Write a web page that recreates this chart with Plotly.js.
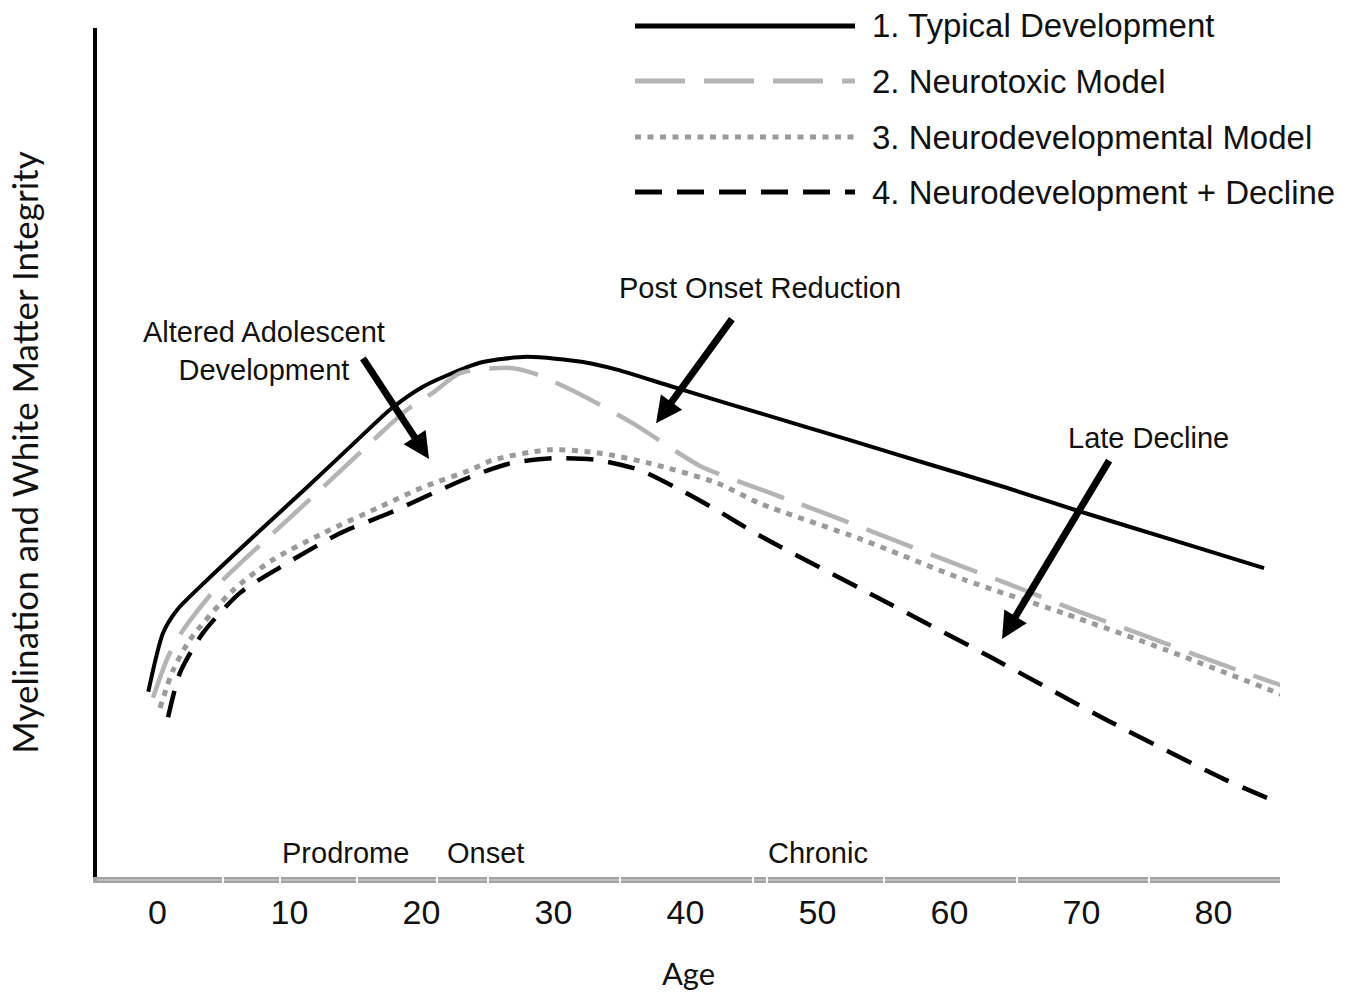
<!DOCTYPE html>
<html>
<head>
<meta charset="utf-8">
<script src="https://cdn.plot.ly/plotly-3.0.1.min.js"></script>
<style>html,body{margin:0;padding:0;background:#fff;}#chart{width:1355px;height:992px;}</style>
</head>
<body>
<div id="chart"></div>
<script>
// ---- Data (y in arbitrary integrity units) ----
const seriesNames = ["1. Typical Development", "2. Neurotoxic Model", "3. Neurodevelopmental Model", "4. Neurodevelopment + Decline"];

const ageTypical = [-0.70, 0.42, 1.48, 3.75, 7.54, 11.33, 15.11, 17.61, 20.11, 23.45, 24.66, 27.99, 32.23, 34.81, 38.6, 42.39, 45.64, 52.08, 58.45, 64.2, 69.58, 76.7, 83.83];
const valTypical = [22.1, 29.0, 31.7, 35.2, 40.7, 46.1, 51.6, 55.2, 57.9, 60.2, 60.8, 61.4, 60.8, 59.9, 58.1, 56.3, 54.8, 51.8, 48.8, 46.1, 43.4, 40.0, 36.6];

const ageNeurotoxic = [-0.34, 0.80, 1.93, 4.96, 8.75, 12.54, 16.33, 18.9, 20.87, 22.92, 26.7, 28.45, 31.78, 36.02, 41.1, 44.89, 47.16, 50.27, 55.13, 59.96, 64.89, 69.96, 74.58, 79.74, 85.57];
const valNeurotoxic = [21.4, 26.2, 29.3, 35.2, 40.7, 46.1, 51.6, 55.2, 57.2, 59.5, 60.1, 59.5, 57.2, 53.6, 48.6, 46.3, 45.0, 43.2, 40.3, 37.4, 34.5, 31.4, 28.8, 25.8, 22.6];

const ageNeurodev = [0.19, 1.17, 2.46, 5.72, 8.75, 12.54, 16.86, 20.11, 23.67, 25.42, 29.73, 33.52, 37.31, 42.39, 45.64, 53.3, 61.02, 68.67, 76.4, 85.11];
const valNeurodev = [20.2, 24.6, 28.2, 34.0, 37.6, 40.7, 43.8, 46.1, 48.1, 49.3, 50.5, 50.1, 48.9, 46.6, 44.2, 40.0, 35.3, 31.3, 27.0, 21.8];

const ageDecline = [0.80, 1.70, 3.45, 6.25, 9.28, 13.83, 17.61, 20.87, 23.67, 26.7, 29.96, 33.3, 36.55, 39.58, 42.39, 45.64, 54.36, 63.07, 72.01, 80.72, 84.58];
const valDecline = [19.1, 24.3, 29.0, 33.7, 36.7, 40.7, 43.1, 45.4, 47.3, 48.9, 49.5, 49.3, 48.1, 45.8, 43.4, 40.4, 33.3, 26.2, 18.7, 11.9, 9.3];

const tickValues = [0, 10, 20, 30, 40, 50, 60, 70, 80];
const tickLabels = ["0", "10", "20", "30", "40", "50", "60", "70", "80"];

const phaseLabels = ["Prodrome", "Onset", "Chronic"];
const calloutLabels = ["Altered Adolescent<br>Development", "Post Onset Reduction", "Late Decline"];
// arrow tips / tails (age, value)
const arrowTips  = [[20.57, 49.4], [37.77, 53.6], [63.98, 28.3]];
const arrowTails = [[15.49, 61.4], [43.6, 66.0], [72.16, 49.4]];

// ---- Styles ----
const styles = [
  {color: "#000000", width: 4, dash: "solid"},
  {color: "#b4b4b4", width: 4.5, dash: "50px,19px"},
  {color: "#9a9a9a", width: 5, dash: "6px,6.5px"},
  {color: "#000000", width: 4.5, dash: "27px,15px"}
];
const xs = [ageTypical, ageNeurotoxic, ageNeurodev, ageDecline];
const ys = [valTypical, valNeurotoxic, valNeurodev, valDecline];

const traces = xs.map((x, i) => ({
  type: "scatter", mode: "lines", x: x, y: ys[i], name: seriesNames[i],
  line: {color: styles[i].color, width: styles[i].width, dash: styles[i].dash, shape: "spline", smoothing: 0.7},
  showlegend: false, hoverinfo: "skip"
}));

const W = 1355, H = 992;
const L = 97, R = 1280, T = 28, B = 877;
const px = v => (v - L) / (R - L);
const py = v => (B - v) / (B - T);

const txtFont = "Liberation Sans, Arial, Helvetica, sans-serif";
const calFont = "Lato, Carlito, Calibri, sans-serif";

const shapes = [];
const annotations = [];

// manual legend (long line samples)
const legendY = [26, 81, 137, 192];
legendY.forEach((yy, i) => {
  shapes.push({type: "line", xref: "paper", yref: "paper", x0: px(635), x1: px(855), y0: py(yy), y1: py(yy),
    line: {color: styles[i].color, width: 5, dash: styles[i].dash}});
  annotations.push({xref: "paper", yref: "paper", x: px(870), y: py(yy), xanchor: "left", yanchor: "middle",
    text: seriesNames[i], showarrow: false, font: {family: txtFont, size: 33, color: "#111"}});
});

// x-axis light center stripe and small breaks
shapes.push({type: "line", xref: "paper", yref: "paper", x0: 0, x1: 1, y0: py(880), y1: py(880), line: {color: "#dcdcdc", width: 1.2}});
[223, 280, 357, 437, 488, 620, 753, 767, 884, 1017, 1149].forEach(b => {
  shapes.push({type: "line", xref: "paper", yref: "paper", x0: px(b), x1: px(b), y0: py(876.5), y1: py(884), line: {color: "#ffffff", width: 2}});
});

// phase labels
const phaseX = [345, 485, 818];
phaseLabels.forEach((t, i) => annotations.push({xref: "paper", yref: "paper", x: px(phaseX[i]), y: py(853),
  xanchor: "center", yanchor: "middle", text: t, showarrow: false, font: {family: txtFont, size: 29, color: "#111"}}));

// callout texts
const calloutPos = [[264, 351], [760, 288], [1148, 438]];
calloutLabels.forEach((t, i) => annotations.push({xref: "paper", yref: "paper", x: px(calloutPos[i][0]), y: py(calloutPos[i][1]),
  xanchor: "center", yanchor: "middle", text: t, showarrow: false, font: {family: txtFont, size: 29, color: "#111"}}));

// arrows
arrowTips.forEach((tip, i) => annotations.push({x: tip[0], y: tip[1], ax: arrowTails[i][0], ay: arrowTails[i][1],
  xref: "x", yref: "y", axref: "x", ayref: "y", text: "", showarrow: true,
  arrowhead: 2, arrowsize: 0.75, arrowwidth: 7, arrowcolor: "#000", standoff: 0, startstandoff: 0}));

const layout = {
  width: W, height: H,
  margin: {l: L, r: W - R, t: T, b: H - B},
  paper_bgcolor: "#fff", plot_bgcolor: "#fff",
  showlegend: false,
  xaxis: {
    range: [(L - 157.5) / 13.2, (R - 157.5) / 13.2],
    tickmode: "array", tickvals: tickValues, ticktext: tickLabels,
    showgrid: false, zeroline: false, showline: true, linecolor: "#a2a2a2", linewidth: 6,
    ticks: "", tickfont: {family: txtFont, size: 34, color: "#111"},
    title: {text: "Age", font: {family: calFont, size: 31, color: "#111"}, standoff: 37},
    fixedrange: true
  },
  yaxis: {
    range: [(880 - B) / 8.52, (880 - T) / 8.52],
    showticklabels: false, ticks: "", showgrid: false, zeroline: false,
    showline: true, linecolor: "#000", linewidth: 4,
    title: {text: "Myelination and White Matter Integrity", font: {family: calFont, size: 35, color: "#111"}, standoff: 45},
    fixedrange: true
  },
  shapes: shapes,
  annotations: annotations
};

Plotly.newPlot("chart", traces, layout, {staticPlot: true, displayModeBar: false});
</script>
</body>
</html>
